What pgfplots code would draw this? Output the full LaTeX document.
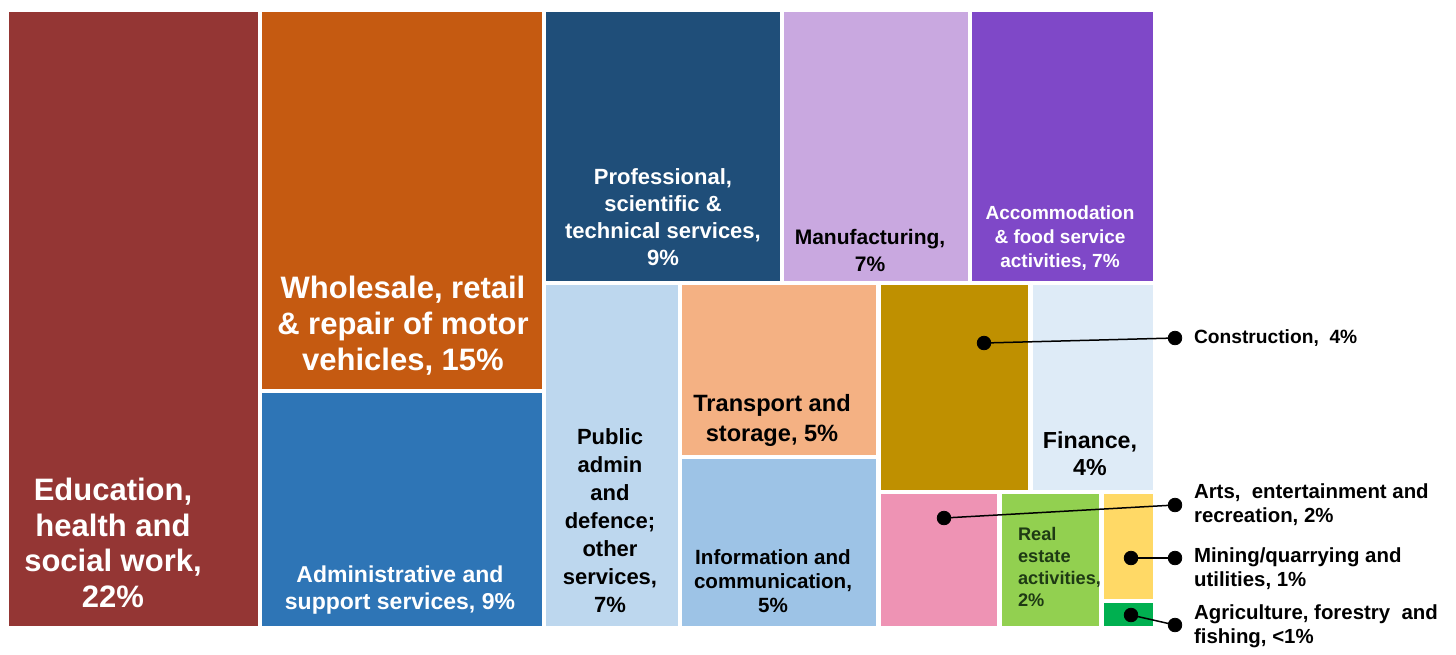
\documentclass[border=0pt]{standalone}
\usepackage{pgfplots}
\pgfplotsset{compat=1.18}
\usepackage{fontspec}
\setmainfont{Liberation Sans}
\definecolor{cEdu}{HTML}{943634}
\definecolor{cWho}{HTML}{C55A11}
\definecolor{cAdm}{HTML}{2E75B6}
\definecolor{cPro}{HTML}{1F4E79}
\definecolor{cMan}{HTML}{C9A8E0}
\definecolor{cAcc}{HTML}{7F48C8}
\definecolor{cPub}{HTML}{BDD7EE}
\definecolor{cTra}{HTML}{F4B183}
\definecolor{cInf}{HTML}{9DC3E6}
\definecolor{cCon}{HTML}{BF9000}
\definecolor{cFin}{HTML}{DEEBF7}
\definecolor{cArt}{HTML}{EE93B4}
\definecolor{cRea}{HTML}{92D050}
\definecolor{cMin}{HTML}{FFD966}
\definecolor{cAgr}{HTML}{00B050}
\definecolor{cReaT}{HTML}{1E3A14}
\newcommand{\rect}[5]{\addplot[fill=#5, draw=none] coordinates {(#1,#2) (#3,#2) (#3,#4) (#1,#4)} --cycle;}
\newcommand{\fs}[2]{\fontsize{#1}{#2}\selectfont\bfseries}
\begin{document}
\begin{tikzpicture}
\begin{axis}[
  width=728pt, height=324pt, scale only axis, hide axis,
  xmin=0, xmax=1456, ymin=0, ymax=648, y dir=reverse, clip=false]
\path (axis cs:0,0) rectangle (axis cs:1456,648);
% rectangles (pixel coordinates of the treemap)
\rect{9}{12}{258}{626}{cEdu}
\rect{262}{12}{542}{389}{cWho}
\rect{262}{393}{542}{626}{cAdm}
\rect{546}{12}{780}{281}{cPro}
\rect{784}{12}{968}{281}{cMan}
\rect{972}{12}{1153}{281}{cAcc}
\rect{546}{285}{678}{626}{cPub}
\rect{682}{285}{876}{455}{cTra}
\rect{682}{459}{876}{626}{cInf}
\rect{881}{285}{1028}{490}{cCon}
\rect{1033}{285}{1153}{490}{cFin}
\rect{881}{494}{997}{626}{cArt}
\rect{1002}{494}{1099}{626}{cRea}
\rect{1104}{494}{1153}{599}{cMin}
\rect{1104}{603}{1153}{626}{cAgr}
% leader lines
\addplot[black, line width=0.75pt] coordinates {(984,343) (1175,338)};
\addplot[black, line width=0.75pt] coordinates {(944,518) (1175,505)};
\addplot[black, line width=0.75pt] coordinates {(1131,558) (1175,558)};
\addplot[black, line width=0.75pt] coordinates {(1131,615) (1175,625)};
\addplot[only marks, mark=*, mark size=3.4pt, black] coordinates {(984,343) (944,518) (1131,558) (1131,615) (1175,338) (1175,505) (1175,558) (1175,625)};
% labels inside
\node[align=center, text=white, font=\fs{15.5}{17.8}] at (axis cs:113,543) {Education,\\health and\\social work,\\22\%};
\node[align=center, text=white, font=\fs{15.5}{18}] at (axis cs:403,326) {Wholesale, retail\\\& repair of motor\\vehicles, 15\%};
\node[align=center, text=white, font=\fs{11.5}{13.5}] at (axis cs:400,590) {Administrative and\\support services, 9\%};
\node[align=center, text=white, font=\fs{11}{13.5}] at (axis cs:663,217) {Professional,\\scientific \&\\technical services,\\9\%};
\node[align=center, text=black, font=\fs{10.5}{13.5}] at (axis cs:870,250) {Manufacturing,\\7\%};
\node[align=center, text=white, font=\fs{9.5}{12}] at (axis cs:1060,238) {Accommodation\\\& food service\\activities, 7\%};
\node[align=center, text=black, font=\fs{11}{14}] at (axis cs:610,521) {Public\\admin\\and\\defence;\\other\\services,\\7\%};
\node[align=center, text=black, font=\fs{11.8}{15}] at (axis cs:772,420) {Transport and\\storage, 5\%};
\node[align=center, text=black, font=\fs{10.3}{12}] at (axis cs:773,581) {Information and\\communication,\\5\%};
\node[align=center, text=black, font=\fs{11.6}{13.5}] at (axis cs:1090,454) {Finance,\\4\%};
\node[align=left, anchor=west, text=cReaT, font=\fs{9.1}{11}] at (axis cs:1011,567) {Real\\estate\\activities,\\2\%};
% outside labels
\node[align=left, anchor=west, text=black, font=\fs{9.6}{12}] at (axis cs:1187,338) {Construction,~~4\%};
\node[align=left, anchor=west, text=black, font=\fs{10.2}{12}] at (axis cs:1187,505) {Arts,~ entertainment and\\recreation, 2\%};
\node[align=left, anchor=west, text=black, font=\fs{10.2}{12}] at (axis cs:1187,569) {Mining/quarrying and\\utilities, 1\%};
\node[align=left, anchor=west, text=black, font=\fs{10.2}{12}] at (axis cs:1187,626) {Agriculture, forestry~ and\\fishing, <1\%};
\end{axis}
\end{tikzpicture}
\end{document}
